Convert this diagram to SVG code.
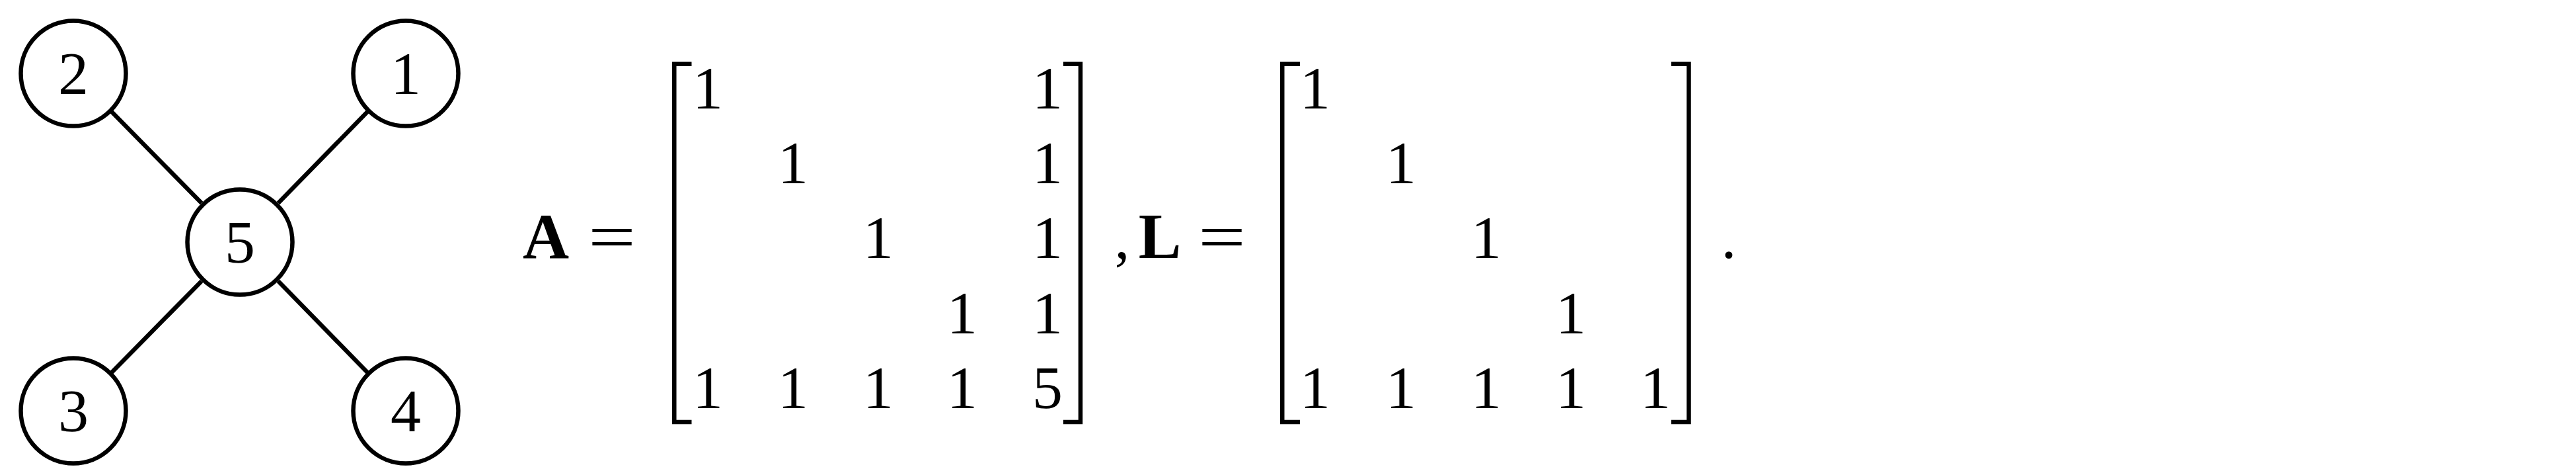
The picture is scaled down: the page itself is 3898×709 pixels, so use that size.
<svg xmlns="http://www.w3.org/2000/svg" width="3898" height="709" viewBox="0 0 3898 709">
<style>
.node{fill:#fff;stroke:#000;stroke-width:6.5}
.edge{stroke:#000;stroke-width:6.5;fill:none}
.t{font-family:"Liberation Serif","Times New Roman",serif;font-size:92px;fill:#000;text-anchor:middle}
.b{font-weight:bold;font-size:97px}
.eq{font-size:100px}
.br{fill:none;stroke:#000;stroke-width:6.5;stroke-linejoin:miter}
</style>
<rect width="3898" height="709" fill="#fff"/>
<g id="connectors">
<line class="edge" x1="169" y1="169" x2="305" y2="307"/>
<line class="edge" x1="556" y1="169" x2="421" y2="307"/>
<line class="edge" x1="169" y1="563" x2="305" y2="425"/>
<line class="edge" x1="556" y1="563" x2="421" y2="425"/>
</g>
<g id="node2"><circle class="node" cx="111" cy="111" r="79.5"/><text class="t" x="111" y="142">2</text></g>
<g id="node1"><circle class="node" cx="614" cy="111" r="79.5"/><text class="t" x="614" y="142">1</text></g>
<g id="node5"><circle class="node" cx="363" cy="366" r="79.5"/><text class="t" x="363" y="397">5</text></g>
<g id="node3"><circle class="node" cx="111" cy="621" r="79.5"/><text class="t" x="111" y="652">3</text></g>
<g id="node4"><circle class="node" cx="614" cy="621" r="79.5"/><text class="t" x="614" y="652">4</text></g>
<g id="matrixA">
<text class="t b" x="826" y="390">A</text>
<text class="t eq" x="890" y="392" textLength="72" lengthAdjust="spacingAndGlyphs" style="text-anchor:start">=</text>
<path class="br" d="M1046.5,96.7 H1020.3 V638 H1046.5"/>
<path class="br" d="M1609,96.7 H1635 V638 H1609"/>
<text class="t" x="1071" y="164">1</text><text class="t" x="1585" y="164">1</text>
<text class="t" x="1200" y="277">1</text><text class="t" x="1585" y="277">1</text>
<text class="t" x="1329" y="390">1</text><text class="t" x="1585" y="390">1</text>
<text class="t" x="1456" y="503.5">1</text><text class="t" x="1585" y="503.5">1</text>
<text class="t" x="1071" y="617">1</text><text class="t" x="1200" y="617">1</text><text class="t" x="1329" y="617">1</text><text class="t" x="1456" y="617">1</text><text class="t" x="1585" y="617">5</text>
</g>
<g id="matrixL">
<text class="t" x="1698" y="390">,</text>
<text class="t b" x="1755" y="390">L</text>
<text class="t eq" x="1813" y="392" textLength="72" lengthAdjust="spacingAndGlyphs" style="text-anchor:start">=</text>
<path class="br" d="M1967,96.7 H1940.3 V638 H1967"/>
<path class="br" d="M2529,96.7 H2555.5 V638 H2529"/>
<text class="t" x="1990" y="164">1</text>
<text class="t" x="2120" y="277">1</text>
<text class="t" x="2249" y="390">1</text>
<text class="t" x="2377" y="503.5">1</text>
<text class="t" x="1990" y="617">1</text><text class="t" x="2120" y="617">1</text><text class="t" x="2249" y="617">1</text><text class="t" x="2377" y="617">1</text><text class="t" x="2505" y="617">1</text>
<text class="t" x="2616" y="390">.</text>
</g>
</svg>
